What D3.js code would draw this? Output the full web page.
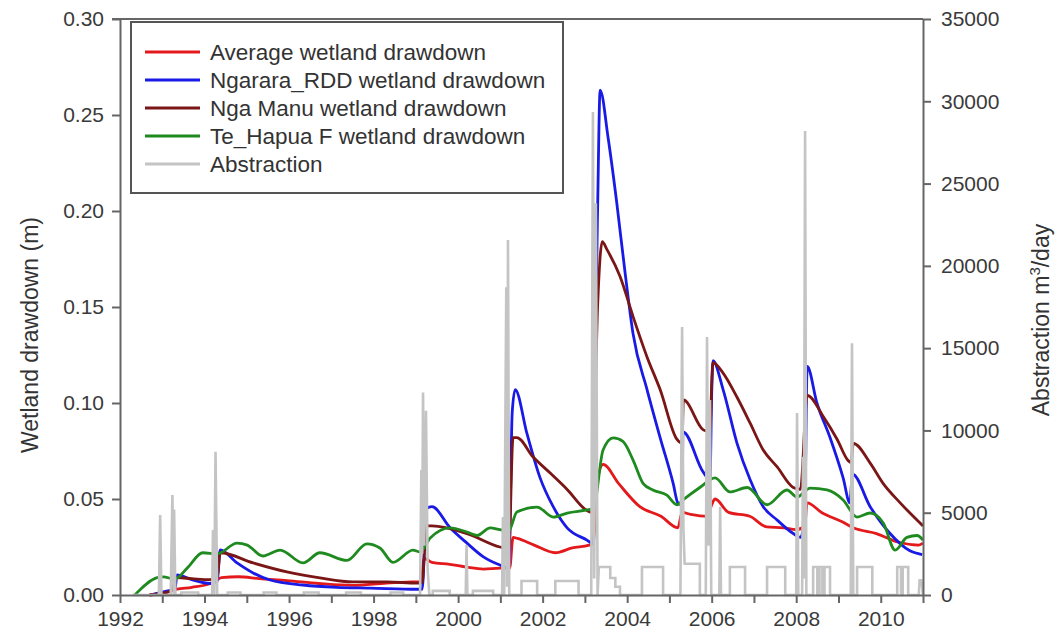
<!DOCTYPE html>
<html><head><meta charset="utf-8">
<script src="https://cdn.jsdelivr.net/npm/d3@7"></script>
<style>body{margin:0;background:#fff;} text{font-family:"Liberation Sans",Arial,sans-serif;}</style>
</head><body><svg id="c" width="1062" height="642"></svg>
<script>
// ---- data ----
const yearTicks = d3.range(1992, 2012);
const leftTicks = [0, 0.05, 0.10, 0.15, 0.20, 0.25, 0.30];
const rightTicks = [0, 5000, 10000, 15000, 20000, 25000, 30000, 35000];
const seriesNames = ["Average wetland drawdown", "Ngarara_RDD wetland drawdown", "Nga Manu wetland drawdown", "Te_Hapua F wetland drawdown", "Abstraction"];

const average = [[1992.7,0],[1993.0,0.001],[1993.35,0.003],[1993.7,0.004],[1994.13,0.006],[1994.3,0.008],[1994.4,0.009],[1994.8,0.0095],[1995.3,0.0085],[1995.95,0.0075],[1996.7,0.006],[1997.5,0.005],[1998.3,0.0062],[1998.9,0.0068],[1999.12,0.007],[1999.2,0.019],[1999.38,0.017],[1999.8,0.016],[2000.2,0.0145],[2000.6,0.0135],[2001.0,0.014],[2001.22,0.014],[2001.3,0.03],[2001.4,0.0295],[2001.8,0.026],[2002.3,0.022],[2002.7,0.0245],[2003.1,0.026],[2003.2,0.027],[2003.3,0.06],[2003.43,0.068],[2003.8,0.058],[2004.3,0.046],[2004.8,0.041],[2005.2,0.035],[2005.3,0.043],[2005.5,0.042],[2005.9,0.041],[2006.0,0.047],[2006.08,0.05],[2006.4,0.043],[2006.9,0.041],[2007.3,0.0355],[2007.7,0.035],[2008.0,0.034],[2008.2,0.036],[2008.26,0.048],[2008.6,0.043],[2009.1,0.038],[2009.35,0.035],[2009.9,0.032],[2010.4,0.0276],[2010.9,0.026],[2011.0,0.027]];

const ngarara = [[1992.7,0],[1993.1,0.002],[1993.3,0.003],[1993.35,0.0105],[1993.7,0.008],[1994.13,0.006],[1994.3,0.007],[1994.37,0.0235],[1994.77,0.0167],[1995.15,0.0115],[1995.55,0.0078],[1996.33,0.0052],[1997.13,0.004],[1997.92,0.0036],[1999.03,0.003],[1999.15,0.003],[1999.25,0.045],[1999.38,0.046],[1999.81,0.035],[2000.21,0.027],[2000.59,0.02],[2000.99,0.0156],[2001.2,0.014],[2001.28,0.095],[2001.35,0.107],[2001.63,0.084],[2001.94,0.061],[2002.25,0.046],[2002.58,0.035],[2003.05,0.0286],[2003.17,0.027],[2003.3,0.2],[2003.36,0.263],[2003.55,0.238],[2003.75,0.205],[2003.95,0.168],[2004.14,0.136],[2004.47,0.107],[2004.78,0.082],[2005.09,0.058],[2005.2,0.048],[2005.3,0.047],[2005.32,0.085],[2005.8,0.064],[2005.96,0.06],[2006.0,0.105],[2006.03,0.122],[2006.27,0.107],[2006.6,0.079],[2006.91,0.06],[2007.22,0.046],[2007.55,0.039],[2007.93,0.032],[2008.1,0.03],[2008.2,0.04],[2008.26,0.119],[2008.49,0.10],[2008.8,0.082],[2009.11,0.061],[2009.27,0.048],[2009.33,0.063],[2009.75,0.046],[2010.22,0.032],[2010.69,0.023],[2010.98,0.021]];

const ngaManu = [[1992.7,0],[1993.2,0.002],[1993.35,0.009],[1993.7,0.0085],[1994.13,0.008],[1994.3,0.009],[1994.37,0.022],[1995.15,0.0167],[1995.95,0.012],[1996.73,0.0089],[1997.51,0.0068],[1998.32,0.0068],[1999.03,0.0062],[1999.15,0.0065],[1999.25,0.036],[1999.38,0.036],[2000.21,0.032],[2000.99,0.025],[2001.2,0.024],[2001.3,0.082],[2001.39,0.082],[2001.77,0.072],[2002.18,0.0635],[2002.58,0.055],[2003.05,0.044],[2003.17,0.043],[2003.3,0.15],[2003.41,0.184],[2003.52,0.18],[2003.83,0.166],[2004.14,0.145],[2004.47,0.124],[2004.78,0.107],[2005.18,0.081],[2005.3,0.079],[2005.33,0.1016],[2005.8,0.086],[2005.96,0.085],[2006.0,0.11],[2006.03,0.121],[2006.27,0.1156],[2006.6,0.103],[2006.91,0.0895],[2007.22,0.0755],[2007.55,0.0667],[2007.93,0.056],[2008.1,0.055],[2008.26,0.104],[2008.64,0.093],[2008.97,0.081],[2009.23,0.070],[2009.3,0.069],[2009.35,0.079],[2009.75,0.0687],[2010.06,0.058],[2010.46,0.048],[2010.93,0.0375],[2011.0,0.036]];

const teHapua = [[1992.35,0],[1992.88,0.009],[1993.02,0.0094],[1993.3,0.0083],[1993.59,0.014],[1993.96,0.022],[1994.3,0.0214],[1994.77,0.027],[1995.01,0.026],[1995.38,0.0203],[1995.79,0.0234],[1996.33,0.0167],[1996.73,0.022],[1997.37,0.018],[1997.84,0.0266],[1998.15,0.0245],[1998.46,0.017],[1998.93,0.0234],[1999.1,0.0224],[1999.34,0.0297],[1999.81,0.035],[2000.21,0.0328],[2000.45,0.031],[2000.76,0.035],[2000.99,0.034],[2001.2,0.0335],[2001.39,0.0432],[2001.87,0.0458],[2002.25,0.0406],[2002.58,0.0427],[2003.05,0.0443],[2003.2,0.045],[2003.43,0.0755],[2003.67,0.0818],[2003.9,0.08],[2004.14,0.0703],[2004.38,0.058],[2004.61,0.0547],[2004.94,0.052],[2005.18,0.047],[2005.32,0.0495],[2005.72,0.056],[2006.08,0.061],[2006.43,0.0537],[2006.84,0.056],[2007.31,0.047],[2007.78,0.0547],[2008.02,0.051],[2008.33,0.0557],[2008.73,0.0547],[2009.11,0.0495],[2009.44,0.0406],[2009.75,0.0427],[2010.06,0.0375],[2010.34,0.0234],[2010.62,0.030],[2010.86,0.031],[2011.0,0.0286]];

const abstraction = [[1992.3,0],
[1992.92,0],[1992.95,4860],[1992.98,0],
[1993.2,0],[1993.24,6080],[1993.27,0],[1993.28,5200],[1993.31,0],
[1993.45,0],[1993.45,150],[1993.85,150],[1993.85,0],
[1994.18,0],[1994.2,3950],[1994.23,0],[1994.26,8700],[1994.3,0],
[1994.55,0],[1994.55,150],[1994.85,150],[1994.85,0],
[1995.4,0],[1995.4,150],[1995.7,150],[1995.7,0],
[1996.35,0],[1996.35,150],[1996.7,150],[1996.7,0],
[1997.35,0],[1997.35,150],[1997.7,150],[1997.7,0],
[1998.4,0],[1998.4,150],[1998.7,150],[1998.7,0],
[1999.1,0],[1999.13,7600],[1999.15,2500],[1999.17,12300],[1999.2,3000],[1999.24,11200],[1999.28,1500],[1999.32,0],
[1999.4,0],[1999.4,250],[1999.8,250],[1999.8,0],
[2000.18,0],[2000.2,3040],[2000.22,0],
[2000.35,0],[2000.35,250],[2000.83,250],[2000.83,0],
[2001.04,0],[2001.06,4740],[2001.09,0],[2001.14,18700],[2001.16,500],[2001.18,21570],[2001.21,0],
[2001.5,0],[2001.5,850],[2001.87,850],[2001.87,0],
[2002.3,0],[2002.3,850],[2002.85,850],[2002.85,0],
[2003.15,0],[2003.19,29350],[2003.22,1000],[2003.26,23800],[2003.3,0],
[2003.33,1700],[2003.6,1700],[2003.6,1030],[2003.72,1030],[2003.72,500],[2003.83,500],[2003.83,0],
[2004.35,0],[2004.35,1700],[2004.85,1700],[2004.85,0],
[2005.26,0],[2005.3,16280],[2005.33,4100],[2005.36,1900],[2005.72,1900],[2005.72,0],
[2005.86,0],[2005.89,15680],[2005.92,3000],[2005.96,11850],[2005.99,0],
[2006.18,0],[2006.2,5350],[2006.22,0],
[2006.43,0],[2006.43,1700],[2006.79,1700],[2006.79,0],
[2007.31,0],[2007.31,1700],[2007.74,1700],[2007.74,0],
[2008.0,0],[2008.02,11060],[2008.05,0],[2008.14,0],[2008.16,8400],[2008.18,1000],[2008.21,28200],[2008.24,0],
[2008.4,0],[2008.4,1700],[2008.5,1700],[2008.5,0],[2008.55,0],[2008.55,1700],[2008.62,1700],[2008.62,0],[2008.67,0],[2008.67,1700],[2008.8,1700],[2008.8,0],
[2009.29,0],[2009.32,15300],[2009.35,0],
[2009.44,0],[2009.44,1700],[2009.8,1700],[2009.8,0],
[2010.39,0],[2010.39,1700],[2010.48,1700],[2010.48,0],[2010.52,0],[2010.52,1700],[2010.65,1700],[2010.65,0],
[2010.9,0],[2010.92,900],[2010.96,900],[2011,0]];

// ---- chart ----
const colors = ["#e3191c", "#1a1ae6", "#7b1616", "#1f8a1f", "#c4c4c4"];
const svg = d3.select("#c");
const L = 120, R = 923, T = 19, B = 595;
const x = d3.scaleLinear().domain([1992, 2011]).range([L, R]);
const yL = d3.scaleLinear().domain([0, 0.30]).range([B, T]);
const yR = d3.scaleLinear().domain([0, 35000]).range([B, T]);

const lineL = d3.line().x(d => x(d[0])).y(d => yL(d[1])).curve(d3.curveMonotoneX);
const lineR = d3.line().x(d => x(d[0])).y(d => yR(d[1]));

const plot = svg.append("g");
[average, ngarara, ngaManu, teHapua].forEach((s, i) => {
  plot.append("path").datum(s).attr("d", lineL).attr("fill", "none")
    .attr("stroke", colors[i]).attr("stroke-width", 2.8).attr("stroke-linejoin", "round");
});
plot.append("path").datum(abstraction).attr("d", lineR).attr("fill", "none")
  .attr("stroke", colors[4]).attr("stroke-width", 2.6).attr("stroke-linejoin", "miter");

// axes
const axisColor = "#666", labelColor = "#3a3a3a";
function style(g) {
  g.select(".domain").attr("stroke", axisColor).attr("stroke-width", 2);
  g.selectAll(".tick line").attr("stroke", axisColor).attr("stroke-width", 2);
  g.selectAll(".tick text").attr("fill", labelColor).attr("font-size", 21)
    .attr("font-family", "Liberation Sans, Arial, sans-serif");
}
svg.append("g").attr("transform", `translate(0,${B})`)
  .call(d3.axisBottom(x).tickValues(yearTicks).tickSizeInner(8).tickSizeOuter(0).tickPadding(8)
    .tickFormat(d => d % 2 === 0 ? d3.format("d")(d) : ""))
  .call(style);
svg.append("g").attr("transform", `translate(${L},0)`)
  .call(d3.axisLeft(yL).tickValues(leftTicks).tickSizeInner(8).tickSizeOuter(0).tickPadding(8).tickFormat(d3.format(".2f")))
  .call(style);
svg.append("g").attr("transform", `translate(${R},0)`)
  .call(d3.axisRight(yR).tickValues(rightTicks).tickSizeInner(8).tickSizeOuter(0).tickPadding(10).tickFormat(d3.format("d")))
  .call(style);
svg.append("line").attr("x1", L - 8).attr("x2", R).attr("y1", T).attr("y2", T)
  .attr("stroke", axisColor).attr("stroke-width", 2);

// titles
svg.append("text").attr("transform", "translate(38,335) rotate(-90)").attr("text-anchor", "middle")
  .attr("font-size", 23).attr("fill", "#333").text("Wetland drawdown (m)");
const rt = svg.append("text").attr("transform", "translate(1049,320) rotate(-90)").attr("text-anchor", "middle")
  .attr("font-size", 23).attr("fill", "#333");
rt.append("tspan").text("Abstraction m");
rt.append("tspan").attr("dy", -9).attr("font-size", 15).text("3");
rt.append("tspan").attr("dy", 9).text("/day");

// legend
const lg = svg.append("g");
lg.append("rect").attr("x", 131).attr("y", 22).attr("width", 432).attr("height", 171)
  .attr("fill", "#fff").attr("stroke", "#555").attr("stroke-width", 2);
seriesNames.forEach((n, i) => {
  const yy = 52 + i * 28;
  lg.append("line").attr("x1", 145).attr("x2", 200).attr("y1", yy).attr("y2", yy)
    .attr("stroke", colors[i]).attr("stroke-width", 3);
  lg.append("text").attr("x", 210).attr("y", yy).attr("dy", "0.35em").attr("font-size", 22.5)
    .attr("fill", "#333").text(n);
});
</script></body></html>
